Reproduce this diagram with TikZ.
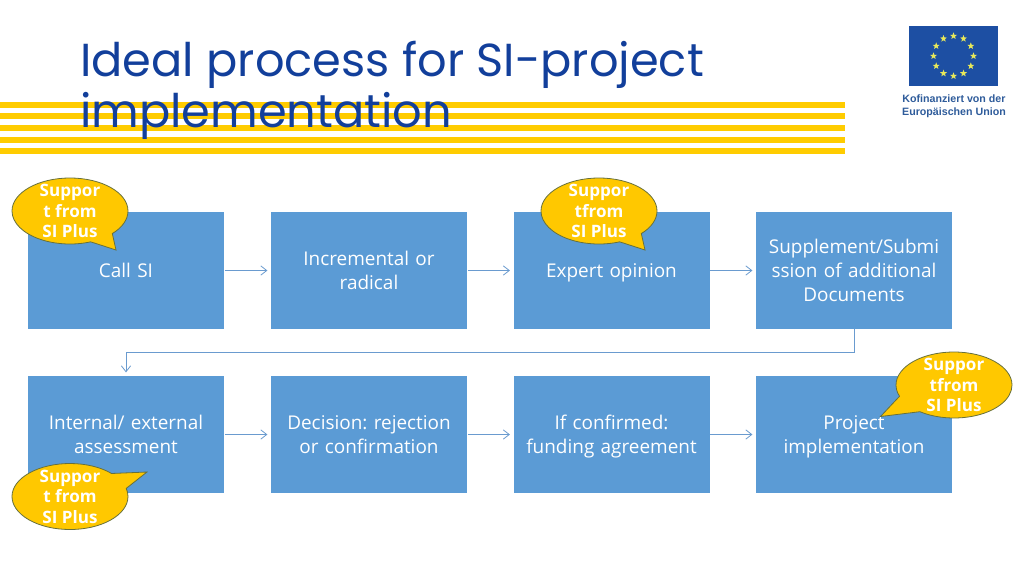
\documentclass[tikz,border=0pt]{standalone}
\usepackage{fontspec}
\setmainfont{Open Sans}
\newfontfamily\titlefont{Poppins}
\newfontfamily\logofont{Liberation Sans}
\usetikzlibrary{arrows.meta,shapes.callouts,shapes.geometric}
\definecolor{boxblue}{HTML}{5B9BD5}
\definecolor{linkblue}{HTML}{6A9BCF}
\definecolor{stripe}{HTML}{FFCC00}
\definecolor{titleblue}{HTML}{123F9B}
\definecolor{bubblefill}{HTML}{FFC800}
\definecolor{bubbleline}{HTML}{66703C}
\definecolor{flagblue}{HTML}{1D4FA3}
\definecolor{logotext}{HTML}{2F5C9B}
\definecolor{starcol}{HTML}{E8E85A}
\frenchspacing
\tikzset{
  stepbox/.style={rectangle,fill=boxblue,draw=none,minimum width=147pt,minimum height=87.75pt,inner sep=1pt,
    text width=145pt,align=center,text=white,font=\fontsize{14.2pt}{18pt}\selectfont,
    execute at begin node={\rule{0pt}{15.6pt}},execute at end node=\strut},
  link/.style={draw=linkblue,line width=.6pt,-{Straight Barb[length=4.5pt,width=7pt]},shorten >=2.5pt,shorten <=.5pt},
  bubble/.style={ellipse callout,fill=bubblefill,draw=bubbleline,line width=.6pt,minimum width=87pt,minimum height=49.5pt,inner sep=0pt,callout pointer arc=26},
  bubbletext/.style={text=white,align=center,inner sep=0pt,font=\fontsize{12.8pt}{15.4pt}\selectfont\bfseries},
  bar/.style={fill=stripe,draw=none},
  eustar/.style={star,star points=5,star point ratio=2.4,fill=starcol,draw=none,minimum size=5.5pt,inner sep=0pt},
}
\begin{document}
\begin{tikzpicture}[x=.75pt,y=-.75pt]
\useasboundingbox (0,0) rectangle (1024,576);
\fill[white] (0,0) rectangle (1024,576);
% stripes
\foreach \ya/\yb in {101.5/107.5,113/119,124.5/130.5,136.5/142.5,148/154}{
  \fill[bar] (0,\ya) rectangle (845,\yb);
}
% title
\node[anchor=west,inner sep=0pt,align=left,text=titleblue,font=\fontsize{34.7pt}{38.5pt}\titlefont] (title) at (80,90) {Ideal process for SI-project\\implementation};
% logo
\fill[flagblue] (909,26) rectangle (998,85.5);
\foreach \a in {0,30,...,330}{
  \node[eustar] (s\a) at ({953.5+20*cos(\a)},{56+20*sin(\a)}) {};
}
\node[inner sep=0pt,text=logotext,align=center,font=\fontsize{8pt}{9.8pt}\logofont\bfseries] (logo) at (954,106) {Kofinanziert von der\\Europäischen Union};
% boxes
\node[stepbox] (a1) at (126,270.5) {Call SI};
\node[stepbox] (a2) at (369,270.5) {Incremental or\\radical};
\node[stepbox] (a3) at (611.5,270.5) {Expert opinion};
\node[stepbox] (a4) at (854,270.5) {Supplement/Submi\\ssion of additional\\Documents};
\node[stepbox] (b1) at (126,434.5) {Internal/ external\\assessment};
\node[stepbox] (b2) at (369,434.5) {Decision: rejection\\or confirmation};
\node[stepbox] (b3) at (611.5,434.5) {If confirmed:\\funding agreement};
\node[stepbox] (b4) at (854,434.5) {Project\\implementation};
% connectors
\draw[link] (a1) -- (a2);
\draw[link] (a2) -- (a3);
\draw[link] (a3) -- (a4);
\draw[link] (b1) -- (b2);
\draw[link] (b2) -- (b3);
\draw[link] (b3) -- (b4);
\coordinate (elbow) at (854,352.5);
\draw[link,shorten <=0pt] (a4.south) -- (elbow) -| (b1.north);
% bubbles
\node[bubble,callout absolute pointer={(116,250)}] (c1) at (70,211) {};
\node[bubbletext] (t1) at (c1.center) {Suppor\\t from\\SI Plus};
\node[bubble,callout absolute pointer={(645,250)}] (c2) at (599,211) {};
\node[bubbletext] (t2) at (c2.center) {Suppor\\tfrom\\SI Plus};
\node[bubble,callout pointer arc=34,callout absolute pointer={(880.5,416.5)}] (c3) at (954,385) {};
\node[bubbletext] (t3) at (c3.center) {Suppor\\tfrom\\SI Plus};
\node[bubble,callout pointer arc=30,callout absolute pointer={(147,472)}] (c4) at (70,496.5) {};
\node[bubbletext] (t4) at (c4.center) {Suppor\\t from\\SI Plus};
\end{tikzpicture}
\end{document}
